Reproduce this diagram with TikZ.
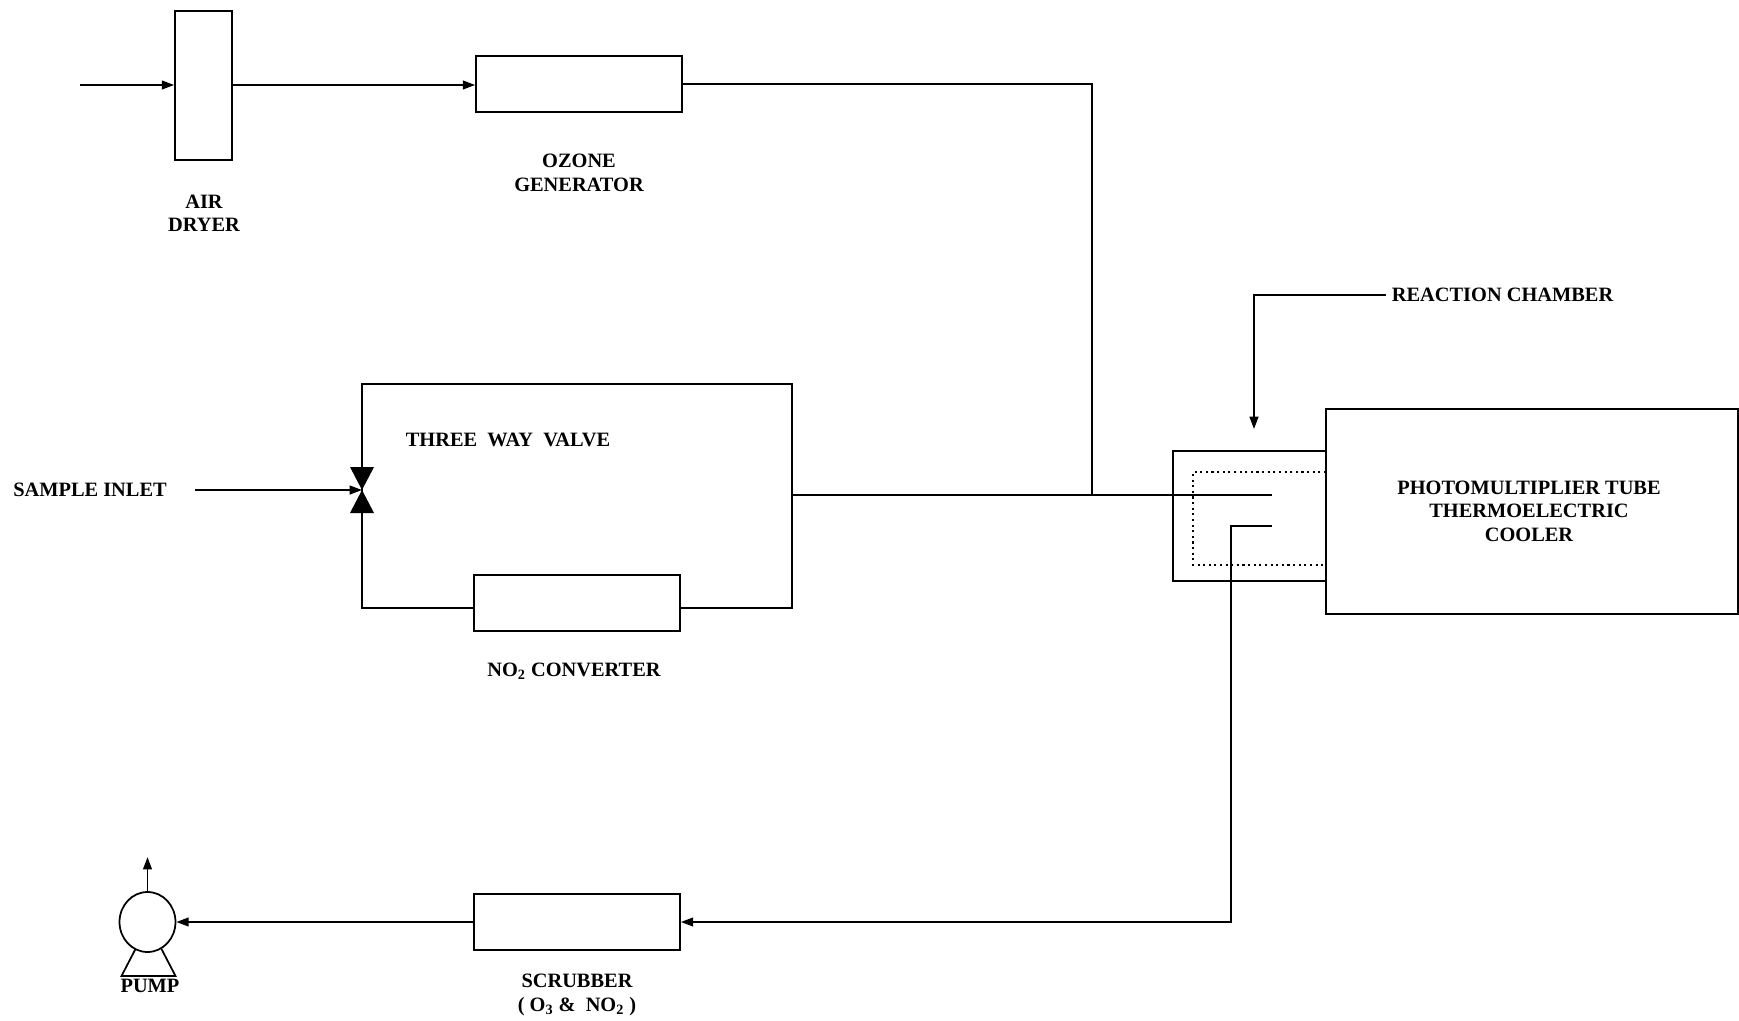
\documentclass[tikz,border=0pt]{standalone}
\usepackage{fontspec}
\setmainfont{Liberation Serif}
\usetikzlibrary{arrows.meta,fit,shapes.geometric,calc}
\begin{document}
\begin{tikzpicture}[x=0.02cm,y=-0.02cm, line width=1pt,
  box/.style={draw, inner sep=0pt, fit={#1}},
  lbl/.style={font=\bfseries\fontsize{11.6}{13.3}\selectfont, align=center, inner sep=0pt},
  flow/.style={-{Triangle[length=7pt,width=5pt]}}]
\useasboundingbox (0,0) rectangle (1739,1021);

% --- air dryer and ozone generator
\node[box={(175,11)(232,160)}] (dryer) {};
\node[box={(476,56)(682,112)}] (ozone) {};
\node[lbl] (dryerlbl) at (204,213) {AIR\\DRYER};
\node[lbl] (ozonelbl) at (579,173) {OZONE\\GENERATOR};
\coordinate (airin) at (80,85);
\draw[flow] (airin) -- (airin -| dryer.west);
\draw[flow] (airin -| dryer.east) -- (airin -| ozone.west);
\coordinate (junc) at (1092,495);
\draw (ozone.east) -| (junc);

% --- three way valve loop
\draw (362,384) rectangle (792,608);
\node[box={(474,575)(680,631)}, fill=white] (conv) {};
\node[lbl] (convlbl) at (574,671) {NO\textsubscript{2} CONVERTER};
\node[lbl, anchor=west] (tvlbl) at (405,440) {THREE~~WAY~~VALVE};
\coordinate (valve) at (362,490);
\fill ($(valve)+(-12,-23)$) -- ($(valve)+(12,-23)$) -- (valve) -- cycle;
\fill (valve) -- ($(valve)+(-12,23)$) -- ($(valve)+(12,23)$) -- cycle;
\node[lbl] (sinlbl) at (90,490) {SAMPLE INLET};
\coordinate (sin) at (195,490);
\draw[flow] (sin) -- (valve);

% --- reaction chamber and PMT
\node[box={(1173,451)(1326,581)}] (rc) {};
\draw[dotted, line width=1.2pt] (1326,472) -- (1193,472) -- (1193,565) -- (1326,565);
\node[box={(1326,409)(1738,614)}, fill=white] (pmt) {};
\node[lbl] (pmtlbl) at (1529,511) {PHOTOMULTIPLIER TUBE\\THERMOELECTRIC\\COOLER};
\coordinate (loopR) at (792,495);
\coordinate (inA) at (1272,495);
\draw (loopR) -- (inA);
\coordinate (outA) at (1272,526);
\coordinate (outB) at (1231,526);

\node[lbl, anchor=west] (rclbl) at (1391,295) {REACTION CHAMBER};
\coordinate (rcp) at (1254,429);
\draw[flow] ([xshift=-3pt]rclbl.west) -| (rcp);

% --- scrubber and pump
\node[box={(474,894)(680,950)}] (scrub) {};
\node[lbl] (scrublbl) at (577,995) {SCRUBBER\\( O\textsubscript{3} \& \ NO\textsubscript{2} )};
\draw[flow] (outA) -- (outB) |- (scrub.east);
\node[draw, ellipse, inner sep=0pt, minimum width=1.12cm, minimum height=1.2cm] (pump) at (147.5,922) {};
\draw[flow] (scrub.west) -- (pump.east);
\draw[flow] (pump.north) -- ++(0,-34);
\draw ([shift={(-12,27)}]pump.center) -- ++(-14,27) -- ++(54,0) -- ++(-14,-27);
\node[lbl] (pumplbl) at (150,986) {PUMP};
\end{tikzpicture}
\end{document}
